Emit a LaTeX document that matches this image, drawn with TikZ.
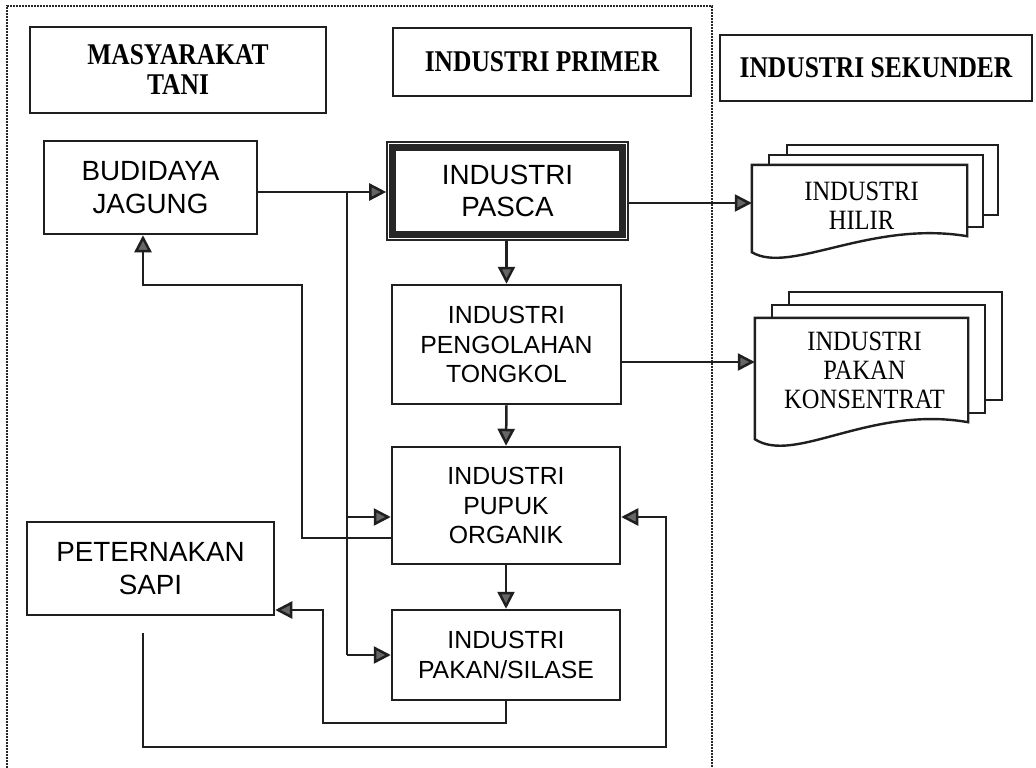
\documentclass[tikz,border=0pt]{standalone}
\usepackage{fontspec}
\setmainfont{Liberation Serif}
\newfontfamily\arialfont{Liberation Sans}
\usetikzlibrary{arrows.meta}
\newcommand\tallline[1]{\scalebox{1}[1.18]{#1}}
\newcommand\docline[1]{\scalebox{1}[1.14]{#1}}

\tikzset{
  ink/.style={draw=black!88, line width=2.5pt},
  headbox/.style={ink, fill=white, inner sep=0pt, align=center,
    font=\bfseries\fontsize{25.5}{30}\selectfont},
  procbox/.style={ink, fill=white, inner sep=0pt, align=center,
    font=\arialfont\fontsize{27.8}{32.5}\selectfont},
  procsmall/.style={procbox, font=\arialfont\fontsize{24.8}{29.5}\selectfont},
  doctext/.style={inner sep=0pt, align=center,
    font=\fontsize{24.5}{29}\selectfont},
  docpage/.style={draw=black!88, line width=2.4pt, fill=white, line join=miter},
  link/.style={draw=black!88, line width=2.5pt},
  flow/.style={link, -{Triangle[length=17pt,width=17pt,fill=black!60]}},
  frameline/.style={draw=black!85, line width=2.3pt, dash pattern=on 1.7pt off 1.3pt},
}

\begin{document}
\begin{tikzpicture}[x=1pt,y=-1pt]
\useasboundingbox (0,0) rectangle (1036,768);
\fill[white] (0,0) rectangle (1036,768);

% dotted frame around the farming and primary-industry area
\draw[frameline] (7,768) -- (7,6) -- (712,6) -- (712,768);

% column headings
\node[headbox, minimum width=296pt, minimum height=86pt] (tani) at (178,70)
  {\tallline{MASYARAKAT}\\\tallline{TANI}};
\node[headbox, minimum width=298pt, minimum height=68pt] (primer) at (542,62)
  {\tallline{INDUSTRI PRIMER}};
\node[headbox, minimum width=312pt, minimum height=66pt] (sekunder) at (876,68)
  {\tallline{INDUSTRI SEKUNDER}};

% process boxes
\node[procbox, minimum width=213pt, minimum height=93pt] (budidaya) at (150.5,187.5)
  {BUDIDAYA\\JAGUNG};
\node[procbox, draw=black!85, line width=1.6pt, minimum width=241pt, minimum height=98pt]
  (pasca) at (507.5,191) {INDUSTRI\\PASCA};
\draw[draw=black!85, line width=6.5pt]
  ([shift={(6.5pt,-6.5pt)}]pasca.north west) rectangle ([shift={(-6.5pt,6.5pt)}]pasca.south east);
\node[procsmall, minimum width=229pt, minimum height=119pt] (pengolahan) at (506.5,344.5)
  {INDUSTRI\\PENGOLAHAN\\TONGKOL};
\node[procsmall, minimum width=228pt, minimum height=117pt] (pupuk) at (506,505.5)
  {INDUSTRI\\PUPUK\\ORGANIK};
\node[procsmall, minimum width=228pt, minimum height=90pt] (pakan) at (506,655)
  {INDUSTRI\\PAKAN/SILASE};
\node[procbox, minimum width=247pt, minimum height=93pt] (peternakan) at (150.5,568.5)
  {PETERNAKAN\\SAPI};

% stacked documents: downstream industry
\node[doctext, minimum width=215pt, minimum height=71pt] (hilir) at (859.5,200.5) {};
\draw[docpage] ([shift={(35pt,20pt)}]hilir.north west) rectangle ([shift={(31pt,21pt)}]hilir.south east);
\draw[docpage] ([shift={(17pt,10pt)}]hilir.north west) rectangle ([shift={(16pt,9pt)}]hilir.south east);
\draw[docpage] (hilir.north west) -- (hilir.north east) -- (hilir.south east)
  .. controls (870,220) and (790,275) .. ([yshift=-16pt]hilir.south west) -- cycle;
\node[doctext] (hilirtext) at ([xshift=2pt,yshift=-5pt]hilir.center)
  {\docline{INDUSTRI}\\\docline{HILIR}};

% stacked documents: concentrate feed industry
\node[doctext, minimum width=213pt, minimum height=104pt] (konsentrat) at (861.5,370) {};
\draw[docpage] ([shift={(34pt,26pt)}]konsentrat.north west) rectangle ([shift={(34pt,22pt)}]konsentrat.south east);
\draw[docpage] ([shift={(17pt,13pt)}]konsentrat.north west) rectangle ([shift={(17pt,9pt)}]konsentrat.south east);
\draw[docpage] (konsentrat.north west) -- (konsentrat.north east) -- (konsentrat.south east)
  .. controls (870,405) and (795,465) .. ([yshift=-17pt]konsentrat.south west) -- cycle;
\node[doctext] (konsentrattext) at ([xshift=3pt]konsentrat.center)
  {\docline{INDUSTRI}\\\docline{PAKAN}\\\docline{KONSENTRAT}};

% junction and bend points
\coordinate (j1) at (347,192);
\coordinate (j2) at (347,517);
\coordinate (j3) at (347,655);
\coordinate (k1) at (302,538);
\coordinate (k2) at (143,285);
\coordinate (p1) at (323,723);
\coordinate (p2) at (323,610);
\coordinate (q0) at (143,633);
\coordinate (q1) at (666,747);
\coordinate (q2) at (666,517);

% corn harvest to post-harvest, organic fertiliser and silage
\draw[flow] (budidaya.east |- j1) -- (j1 -| pasca.west);
\draw[link] (j1) -- (j3);
\draw[flow] (j2) -- (j2 -| pupuk.west);
\draw[flow] (j3) -- (j3 -| pakan.west);

% organic fertiliser back to corn cultivation
\draw[flow] (k1 -| pupuk.west) -- (k1) |- (k2) -- (k2 |- budidaya.south);

% main processing chain
\draw[flow] (pasca.south -| pengolahan.north) -- (pengolahan.north);
\draw[flow] (pengolahan.south) -- (pupuk.north);
\draw[flow] (pupuk.south) -- (pakan.north);

% links to secondary industry
\draw[flow] ([yshift=-12pt]pasca.east) -- ([yshift=-12pt]pasca.east -| hilir.west);
\draw[flow] ([yshift=8pt]pengolahan.east |- konsentrat.west) -- ([yshift=8pt]konsentrat.west);

% silage to cattle farming
\draw[flow] (pakan.south) |- (p1) -- (p2) -- (p2 -| peternakan.east);

% cattle manure to organic fertiliser
\draw[flow] (q0) |- (q1) -- (q2) -- (q2 -| pupuk.east);
\end{tikzpicture}
\end{document}
